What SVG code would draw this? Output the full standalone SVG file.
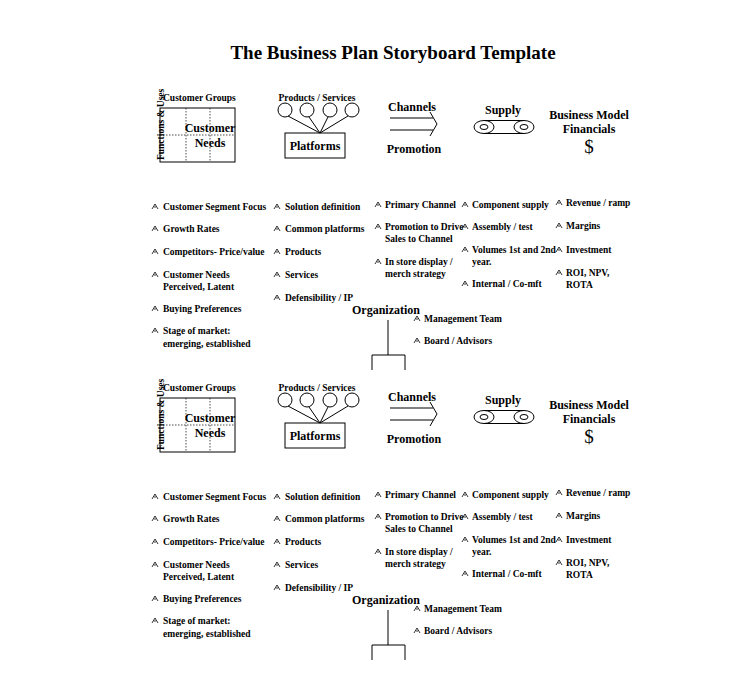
<svg xmlns="http://www.w3.org/2000/svg" width="750" height="690" viewBox="0 0 750 690">
<style>
text{font-family:"Liberation Serif",serif;font-weight:bold;fill:#000}
.s{font-size:9.5px}
.m{font-size:12px}
.c{text-anchor:middle}
.ln{stroke:#000;stroke-width:1;fill:none}
.dt{stroke:#000;stroke-width:0.7;stroke-dasharray:1.5 1.5;fill:none}
</style>
<defs>
<path id="b" d="M-3,2 L0,-3 L3,2 M-1,0 L1,0" stroke="#000" stroke-width="0.8" fill="none"/>
<g id="blk">
<g id="customer">
<rect x="160" y="108" width="75" height="54" class="ln"/>
<line x1="186" y1="108" x2="186" y2="162" class="dt"/>
<line x1="210" y1="108" x2="210" y2="162" class="dt"/>
<line x1="160" y1="135" x2="235" y2="135" class="dt"/>
<text x="163" y="101" class="s">Customer Groups</text>
<text x="164" y="160" class="s" transform="rotate(-90 164 160)">Functions &amp; Uses</text>
<text x="210" y="132" class="m c">Customer</text>
<text x="210" y="147" class="m c">Needs</text>
</g>
<g id="products">
<text x="317" y="101" class="s c">Products / Services</text>
<circle cx="285" cy="110" r="7" class="ln"/><circle cx="307" cy="110" r="7" class="ln"/><circle cx="330" cy="110" r="7" class="ln"/><circle cx="352" cy="110" r="7" class="ln"/>
<path d="M288,116 L320,133 M309,117 L320,133 M328,117 L320,133 M348,116 L320,133" class="ln"/>
<rect x="285" y="133" width="60" height="25" class="ln"/>
<text x="315" y="150" class="m c">Platforms</text>
</g>
<g id="channels">
<text x="412" y="111" class="m c">Channels</text>
<path d="M390,118 L433,118 M390,130 L433,130 M430,112 L437,124 L430,136" class="ln"/>
<text x="414" y="153" class="m c">Promotion</text>
</g>
<g id="supply">
<text x="503" y="114" class="m c">Supply</text>
<ellipse cx="484" cy="127" rx="10" ry="6.5" class="ln"/><ellipse cx="484" cy="127" rx="4" ry="2.5" class="ln"/>
<ellipse cx="524" cy="127" rx="10" ry="6.5" class="ln"/><ellipse cx="524" cy="127" rx="4" ry="2.5" class="ln"/>
<path d="M484,120.5 L524,120.5 M484,133.5 L524,133.5" class="ln"/>
</g>
<g id="financials">
<text x="589" y="119" class="m c">Business Model</text>
<text x="589" y="133" class="m c">Financials</text>
<text x="589" y="153" class="c" style="font-size:19px;font-weight:normal">$</text>
</g>
<g id="col1" class="s">
<use href="#b" x="155" y="207"/><text x="163" y="210">Customer Segment Focus</text>
<use href="#b" x="155" y="229"/><text x="163" y="232">Growth Rates</text>
<use href="#b" x="155" y="252"/><text x="163" y="255">Competitors- Price/value</text>
<use href="#b" x="155" y="275"/><text x="163" y="278">Customer Needs</text><text x="163" y="290">Perceived, Latent</text>
<use href="#b" x="155" y="309"/><text x="163" y="312">Buying Preferences</text>
<use href="#b" x="155" y="331"/><text x="163" y="334">Stage of market:</text><text x="163" y="347">emerging, established</text>
</g>
<g id="col2">
<use href="#b" x="277" y="207"/><text class="s" x="285" y="210">Solution definition</text>
<use href="#b" x="277" y="229"/><text class="s" x="285" y="232">Common platforms</text>
<use href="#b" x="277" y="252"/><text class="s" x="285" y="255">Products</text>
<use href="#b" x="277" y="275"/><text class="s" x="285" y="278">Services</text>
<use href="#b" x="277" y="298"/><text class="s" x="285" y="301">Defensibility / IP</text>
</g>
<g id="col3">
<use href="#b" x="378" y="205"/><text class="s" x="385" y="208">Primary Channel</text>
<use href="#b" x="378" y="227"/><text class="s" x="385" y="230">Promotion to Drive</text><text class="s" x="385" y="242">Sales to Channel</text>
<use href="#b" x="378" y="262"/><text class="s" x="385" y="265">In store display /</text><text class="s" x="385" y="277">merch strategy</text>
</g>
<g id="col4">
<use href="#b" x="465" y="205"/><text class="s" x="472" y="208">Component supply</text>
<use href="#b" x="465" y="227"/><text class="s" x="472" y="230">Assembly / test</text>
<use href="#b" x="465" y="250"/><text class="s" x="472" y="253">Volumes 1st and 2nd</text><text class="s" x="472" y="265">year.</text>
<use href="#b" x="465" y="284"/><text class="s" x="472" y="287">Internal / Co-mft</text>
</g>
<g id="col5">
<use href="#b" x="559" y="203"/><text class="s" x="566" y="206">Revenue / ramp</text>
<use href="#b" x="559" y="226"/><text class="s" x="566" y="229">Margins</text>
<use href="#b" x="559" y="250"/><text class="s" x="566" y="253">Investment</text>
<use href="#b" x="559" y="273"/><text class="s" x="566" y="276">ROI, NPV,</text><text class="s" x="566" y="288">ROTA</text>
</g>
<g id="organization">
<text x="386" y="314" class="m c">Organization</text>
<use href="#b" x="417" y="319"/><text class="s" x="424" y="322">Management Team</text>
<use href="#b" x="417" y="341"/><text class="s" x="424" y="344">Board / Advisors</text>
<path d="M388,320 L388,355 M372,355 L405,355 M372,355 L372,370 M405,355 L405,370" class="ln"/>
</g>
</g>
</defs>
<rect width="750" height="690" fill="#fff"/>
<text x="393" y="59" class="c" style="font-size:19px">The Business Plan Storyboard Template</text>
<use href="#blk"/>
<use href="#blk" y="290"/>
</svg>
